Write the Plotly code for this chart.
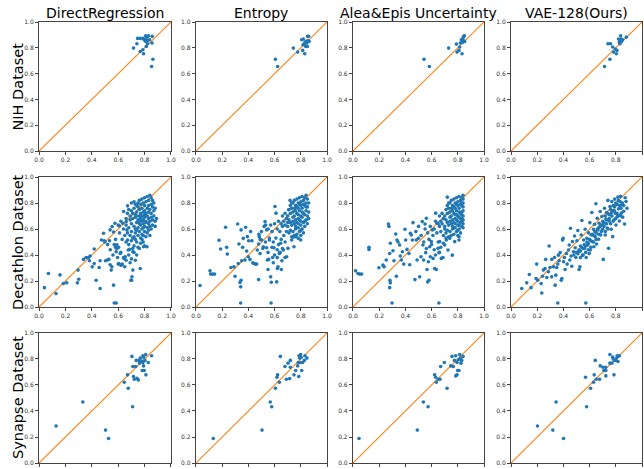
import plotly.graph_objects as go

methods = ["DirectRegression", "Entropy", "Alea&Epis Uncertainty", "VAE-128(Ours)"]
datasets = ["NIH Dataset", "Decathlon Dataset", "Synapse Dataset"]
tick_vals = [0.0, 0.2, 0.4, 0.6, 0.8, 1.0]
tick_text = ["0.0", "0.2", "0.4", "0.6", "0.8", "1.0"]
diag = [0.0, 1.0]

nih_direct = [(0.716,0.798),(0.742,0.832),(0.747,0.873),(0.767,0.873),(0.787,0.873),(0.767,0.772),
              (0.787,0.785),(0.792,0.754),(0.797,0.863),(0.808,0.894),(0.818,0.883),(0.823,0.858),
              (0.813,0.811),(0.823,0.832),(0.838,0.863),(0.830,0.894),(0.858,0.889),(0.856,0.837),
              (0.863,0.712),(0.853,0.655),(0.803,0.868),(0.808,0.850)]
nih_entropy = [(0.606,0.712),(0.623,0.655),(0.743,0.798),(0.776,0.767),(0.807,0.863),(0.814,0.780),
               (0.819,0.868),(0.827,0.832),(0.830,0.754),(0.837,0.811),(0.840,0.850),(0.845,0.837),
               (0.852,0.889),(0.860,0.889),(0.863,0.850),(0.850,0.811),(0.832,0.842),(0.855,0.855),
               (0.817,0.824)]
nih_alea = [(0.542,0.712),(0.583,0.655),(0.730,0.798),(0.789,0.829),(0.794,0.767),(0.809,0.780),
            (0.814,0.806),(0.819,0.837),(0.827,0.863),(0.832,0.754),(0.835,0.842),(0.840,0.876),
            (0.845,0.889),(0.850,0.894),(0.847,0.850),(0.852,0.850),(0.835,0.863)]
nih_vae = [(0.714,0.655),(0.740,0.832),(0.760,0.832),(0.755,0.712),(0.776,0.806),(0.783,0.767),
           (0.796,0.790),(0.804,0.754),(0.809,0.780),(0.821,0.868),(0.827,0.842),(0.832,0.858),
           (0.837,0.894),(0.842,0.868),(0.847,0.858),(0.832,0.832),(0.852,0.863),(0.880,0.883),
           (0.842,0.847)]

dec_direct = [(0.041,0.149),(0.071,0.258),(0.129,0.103),(0.159,0.247),(0.185,0.180),(0.210,0.186),
    (0.291,0.186),(0.301,0.214),(0.296,0.284),(0.337,0.366),(0.357,0.381),(0.375,0.381),(0.387,0.392),
    (0.382,0.356),(0.403,0.309),(0.418,0.335),(0.418,0.446),(0.433,0.206),(0.456,0.304),(0.463,0.356),
    (0.463,0.142),(0.473,0.515),(0.489,0.567),(0.494,0.510),(0.504,0.356),(0.519,0.361),(0.529,0.366),
    (0.534,0.510),(0.539,0.325),(0.547,0.284),(0.552,0.309),(0.539,0.593),(0.554,0.619),(0.565,0.577),
    (0.575,0.644),(0.580,0.459),(0.585,0.425),(0.590,0.479),(0.595,0.381),(0.603,0.459),(0.608,0.624),
    (0.615,0.412),(0.605,0.335),(0.620,0.322),(0.628,0.325),(0.635,0.644),(0.641,0.735),(0.646,0.371),
    (0.653,0.387),(0.661,0.657),(0.666,0.593),(0.671,0.778),(0.671,0.515),(0.676,0.438),(0.686,0.443),
    (0.691,0.670),(0.696,0.206),(0.701,0.206),(0.704,0.232),(0.711,0.425),(0.711,0.284),(0.565,0.168),
    (0.570,0.031),(0.585,0.031),(0.767,0.296),(0.792,0.464),(0.818,0.464),
    (0.70,0.80),(0.72,0.81),(0.73,0.79),(0.75,0.80),(0.76,0.82),(0.78,0.83),(0.80,0.84),(0.82,0.85),
    (0.84,0.86),(0.85,0.84),(0.83,0.82),(0.81,0.81),(0.79,0.80),(0.77,0.79),(0.74,0.78),(0.86,0.82),
    (0.87,0.80),(0.85,0.79),(0.83,0.78),(0.80,0.78),
    (0.68,0.75),(0.70,0.74),(0.72,0.76),(0.74,0.73),(0.76,0.75),(0.78,0.76),(0.80,0.74),(0.82,0.76),
    (0.84,0.75),(0.86,0.77),(0.87,0.74),(0.85,0.72),(0.83,0.73),(0.81,0.72),(0.79,0.73),(0.77,0.72),
    (0.75,0.77),(0.73,0.71),(0.71,0.72),(0.88,0.76),
    (0.69,0.70),(0.71,0.68),(0.73,0.69),(0.75,0.67),(0.76,0.70),(0.77,0.68),(0.78,0.70),(0.79,0.67),
    (0.80,0.69),(0.81,0.66),(0.82,0.70),(0.83,0.68),(0.84,0.66),(0.85,0.69),(0.86,0.67),(0.87,0.70),
    (0.88,0.66),(0.78,0.66),(0.80,0.71),(0.76,0.66),(0.74,0.70),(0.89,0.68),
    (0.66,0.63),(0.68,0.61),(0.70,0.64),(0.72,0.62),(0.74,0.65),(0.75,0.61),(0.77,0.63),(0.78,0.60),
    (0.79,0.64),(0.80,0.62),(0.81,0.65),(0.82,0.61),(0.83,0.64),(0.84,0.62),(0.86,0.63),(0.85,0.60),
    (0.73,0.60),(0.76,0.64),(0.79,0.61),(0.88,0.62),
    (0.67,0.57),(0.69,0.55),(0.70,0.58),(0.72,0.54),(0.73,0.57),(0.75,0.55),(0.76,0.58),(0.77,0.53),
    (0.78,0.56),(0.80,0.58),(0.81,0.54),(0.82,0.57),(0.84,0.55),(0.74,0.59),(0.79,0.55),(0.71,0.53),
    (0.83,0.59),
    (0.66,0.50),(0.68,0.48),(0.70,0.51),(0.72,0.47),(0.74,0.50),(0.75,0.46),(0.77,0.49),(0.78,0.52),
    (0.80,0.47),(0.73,0.52),(0.76,0.45),(0.79,0.50),(0.71,0.45),
    (0.62,0.66),(0.64,0.60),(0.65,0.55),(0.63,0.52),(0.66,0.68),(0.67,0.72),(0.60,0.63),(0.61,0.57),
    (0.58,0.52),(0.57,0.48),(0.59,0.45),(0.56,0.40),(0.54,0.44),(0.52,0.48),(0.50,0.50),
    (0.62,0.42),(0.64,0.38),(0.66,0.36),(0.68,0.40),(0.70,0.37),(0.72,0.42),(0.74,0.40),(0.63,0.33),
    (0.65,0.31),(0.60,0.33),(0.69,0.34),(0.73,0.36)]

dec_entropy = [(0.031,0.165),(0.107,0.278),(0.112,0.253),(0.127,0.253),(0.142,0.253),(0.176,0.513),
    (0.188,0.446),(0.226,0.613),(0.234,0.459),(0.239,0.407),(0.267,0.304),(0.290,0.309),(0.298,0.237),
    (0.318,0.639),(0.323,0.335),(0.328,0.485),(0.336,0.188),(0.341,0.155),(0.344,0.206),(0.341,0.031),
    (0.344,0.593),(0.349,0.356),(0.356,0.459),(0.361,0.528),(0.374,0.361),(0.379,0.613),(0.387,0.430),
    (0.392,0.541),(0.399,0.387),(0.402,0.510),(0.412,0.366),(0.417,0.580),(0.427,0.510),(0.433,0.340),
    (0.443,0.335),(0.453,0.330),(0.463,0.330),(0.468,0.438),(0.478,0.485),(0.478,0.211),(0.483,0.541),
    (0.489,0.412),(0.501,0.515),(0.514,0.464),(0.527,0.657),(0.532,0.631),(0.539,0.593),(0.539,0.456),
    (0.545,0.361),(0.550,0.289),(0.555,0.366),(0.560,0.515),(0.570,0.232),(0.575,0.191),(0.573,0.031),
    (0.585,0.381),(0.590,0.340),(0.595,0.456),(0.603,0.773),(0.611,0.722),(0.616,0.193),(0.621,0.296),
    (0.626,0.309),(0.636,0.412),(0.641,0.418),(0.646,0.490),(0.651,0.289),(0.656,0.356),(0.667,0.438),
    (0.679,0.381),(0.692,0.387),(0.702,0.451),(0.707,0.748),(0.718,0.820),(0.730,0.515),(0.743,0.536),
    (0.748,0.464),(0.763,0.541),(0.781,0.528),(0.799,0.515),
    (0.48,0.56),(0.50,0.58),(0.52,0.62),(0.55,0.60),(0.57,0.63),(0.58,0.58),(0.60,0.64),(0.62,0.60),
    (0.63,0.66),(0.64,0.58),(0.66,0.62),(0.67,0.55),(0.68,0.63),(0.69,0.58),(0.70,0.65),(0.56,0.53),
    (0.59,0.50),(0.61,0.53),(0.63,0.48),(0.65,0.52),(0.66,0.45),(0.68,0.50),(0.62,0.44),(0.64,0.42),
    (0.58,0.46),(0.53,0.50),(0.51,0.45),(0.49,0.52),(0.60,0.40),(0.62,0.38),(0.55,0.42),
    (0.72,0.78),(0.74,0.80),(0.75,0.82),(0.76,0.78),(0.77,0.83),(0.78,0.80),(0.79,0.84),(0.80,0.81),
    (0.81,0.85),(0.82,0.82),(0.83,0.84),(0.84,0.80),(0.85,0.83),(0.80,0.78),(0.78,0.76),(0.76,0.74),
    (0.74,0.73),(0.72,0.72),(0.73,0.76),(0.70,0.70),(0.71,0.75),(0.75,0.70),(0.77,0.72),(0.79,0.74),
    (0.81,0.76),(0.83,0.78),(0.85,0.77),(0.84,0.74),(0.82,0.72),(0.80,0.70),(0.78,0.68),(0.76,0.67),
    (0.74,0.66),(0.72,0.65),(0.70,0.62),(0.73,0.63),(0.75,0.64),(0.77,0.65),(0.79,0.67),(0.81,0.69),
    (0.83,0.71),(0.85,0.70),(0.84,0.67),(0.82,0.65),(0.80,0.63),(0.78,0.61),(0.76,0.60),(0.74,0.58),
    (0.72,0.59),(0.79,0.58),(0.81,0.60),(0.83,0.62),(0.85,0.64),(0.82,0.57),(0.80,0.55),(0.77,0.56),
    (0.75,0.55),(0.73,0.54),(0.71,0.57),(0.69,0.68),(0.68,0.72),(0.66,0.70),(0.67,0.66),(0.65,0.64),
    (0.86,0.80),(0.86,0.73),(0.86,0.68),(0.84,0.86),(0.79,0.79),(0.77,0.77),(0.81,0.73),(0.78,0.71),
    (0.74,0.69),(0.80,0.66),(0.76,0.62),(0.83,0.66),(0.71,0.67),(0.73,0.80),(0.75,0.76),(0.82,0.79),
    (0.84,0.77),(0.78,0.64),(0.80,0.59)]

dec_alea = [(0.020,0.278),(0.038,0.258),(0.051,0.253),(0.066,0.253),(0.122,0.459),(0.122,0.443),
    (0.198,0.302),(0.229,0.322),(0.237,0.309),(0.254,0.361),(0.270,0.639),(0.275,0.619),(0.280,0.412),
    (0.282,0.206),(0.285,0.186),(0.280,0.149),(0.285,0.490),(0.298,0.031),(0.305,0.433),(0.313,0.356),
    (0.326,0.562),(0.331,0.237),(0.336,0.515),(0.344,0.500),(0.356,0.477),(0.361,0.392),(0.369,0.361),
    (0.377,0.425),(0.387,0.330),(0.397,0.598),(0.402,0.515),(0.412,0.443),(0.427,0.412),(0.433,0.325),
    (0.438,0.567),(0.445,0.554),(0.453,0.515),(0.458,0.649),(0.473,0.211),(0.483,0.515),(0.489,0.361),
    (0.499,0.528),(0.509,0.232),(0.519,0.387),(0.529,0.657),(0.534,0.477),(0.539,0.361),(0.550,0.639),
    (0.555,0.418),(0.560,0.683),(0.565,0.289),(0.570,0.193),(0.575,0.348),(0.580,0.206),(0.585,0.464),
    (0.590,0.387),(0.598,0.503),(0.606,0.593),(0.611,0.374),(0.623,0.296),(0.631,0.722),(0.636,0.289),
    (0.641,0.644),(0.649,0.451),(0.656,0.031),(0.656,0.418),(0.662,0.503),(0.674,0.374),(0.687,0.381),
    (0.700,0.477),(0.712,0.515),(0.720,0.845),(0.725,0.438),(0.738,0.528),(0.758,0.399),(0.776,0.503),
    (0.809,0.515),(0.809,0.541),
    (0.48,0.58),(0.50,0.62),(0.52,0.55),(0.55,0.60),(0.57,0.57),(0.59,0.62),(0.61,0.55),(0.62,0.60),
    (0.63,0.66),(0.64,0.57),(0.66,0.62),(0.67,0.58),(0.68,0.64),(0.69,0.55),(0.70,0.60),(0.65,0.50),
    (0.67,0.46),(0.69,0.49),(0.71,0.53),(0.60,0.48),(0.62,0.44),(0.58,0.52),(0.56,0.45),(0.54,0.50),
    (0.63,0.40),(0.66,0.42),
    (0.72,0.78),(0.74,0.80),(0.75,0.82),(0.76,0.78),(0.77,0.83),(0.78,0.80),(0.79,0.84),(0.80,0.81),
    (0.81,0.85),(0.82,0.82),(0.83,0.84),(0.83,0.80),(0.84,0.83),(0.80,0.78),(0.78,0.76),(0.76,0.74),
    (0.74,0.73),(0.72,0.72),(0.73,0.76),(0.70,0.70),(0.71,0.75),(0.75,0.70),(0.77,0.72),(0.79,0.74),
    (0.81,0.76),(0.83,0.78),(0.84,0.77),(0.84,0.74),(0.82,0.72),(0.80,0.70),(0.78,0.68),(0.76,0.67),
    (0.74,0.66),(0.72,0.65),(0.70,0.62),(0.73,0.63),(0.75,0.64),(0.77,0.65),(0.79,0.67),(0.81,0.69),
    (0.83,0.71),(0.84,0.70),(0.84,0.67),(0.82,0.65),(0.80,0.63),(0.78,0.61),(0.76,0.60),(0.74,0.58),
    (0.72,0.59),(0.79,0.58),(0.81,0.60),(0.83,0.62),(0.84,0.64),(0.82,0.57),(0.80,0.55),(0.77,0.56),
    (0.75,0.55),(0.73,0.54),(0.71,0.57),(0.69,0.68),(0.68,0.72),(0.66,0.70),(0.67,0.66),(0.65,0.64),
    (0.84,0.80),(0.83,0.73),(0.83,0.68),(0.84,0.86),(0.79,0.79),(0.77,0.77),(0.81,0.73),(0.78,0.71),
    (0.74,0.69),(0.80,0.66),(0.76,0.62),(0.83,0.66),(0.71,0.67),(0.73,0.80),(0.75,0.76),(0.82,0.79),
    (0.84,0.61),(0.78,0.64),(0.80,0.59),(0.82,0.68),(0.81,0.63),(0.79,0.71),(0.77,0.61)]

dec_vae = [(0.082,0.142),(0.120,0.186),(0.140,0.250),(0.153,0.149),(0.191,0.219),(0.196,0.330),
    (0.204,0.206),(0.230,0.180),(0.235,0.108),(0.240,0.237),(0.247,0.284),(0.260,0.296),(0.265,0.366),
    (0.273,0.227),(0.286,0.271),(0.291,0.469),(0.298,0.304),(0.311,0.366),(0.311,0.232),(0.324,0.309),
    (0.332,0.381),(0.337,0.168),(0.342,0.245),(0.349,0.304),(0.357,0.031),(0.357,0.330),(0.362,0.399),
    (0.367,0.356),(0.375,0.418),(0.383,0.206),(0.388,0.219),(0.393,0.515),(0.398,0.528),(0.401,0.348),
    (0.408,0.381),(0.413,0.289),(0.423,0.412),(0.429,0.330),(0.439,0.438),(0.444,0.477),(0.449,0.361),
    (0.454,0.606),(0.459,0.392),(0.464,0.314),(0.469,0.503),(0.477,0.425),(0.485,0.546),(0.490,0.456),
    (0.495,0.381),(0.503,0.510),(0.510,0.588),(0.515,0.425),(0.520,0.289),(0.526,0.309),(0.531,0.469),
    (0.536,0.554),(0.541,0.665),(0.546,0.399),(0.554,0.515),(0.561,0.451),(0.566,0.598),(0.571,0.031),
    (0.574,0.381),(0.579,0.528),(0.587,0.477),(0.592,0.570),(0.597,0.412),(0.602,0.649),(0.605,0.438),
    (0.612,0.554),(0.617,0.727),(0.622,0.503),(0.630,0.598),(0.633,0.464),(0.638,0.637),(0.643,0.541),
    (0.648,0.794),(0.653,0.485),(0.658,0.683),(0.663,0.593),(0.668,0.521),(0.673,0.644),(0.681,0.735),
    (0.684,0.554),(0.694,0.696),(0.699,0.598),(0.704,0.366),(0.707,0.644),(0.714,0.760),(0.719,0.554),
    (0.724,0.676),(0.730,0.727),(0.735,0.608),(0.740,0.820),(0.745,0.451),(0.750,0.662),(0.755,0.773),
    (0.760,0.714),(0.765,0.598),(0.770,0.812),(0.776,0.541),(0.781,0.742),(0.786,0.670),(0.791,0.830),
    (0.796,0.722),(0.801,0.631),(0.806,0.786),(0.811,0.696),(0.816,0.845),(0.821,0.755),(0.827,0.662),
    (0.832,0.812),(0.837,0.851),(0.842,0.722),(0.847,0.786),(0.852,0.691),(0.860,0.737),(0.867,0.639),
    (0.878,0.812),(0.885,0.760),(0.872,0.840),(0.834,0.704),
    (0.72,0.70),(0.74,0.72),(0.76,0.75),(0.78,0.78),(0.80,0.80),(0.82,0.82),(0.70,0.66),(0.68,0.62),
    (0.66,0.60),(0.64,0.58),(0.62,0.56),(0.60,0.52),(0.58,0.50),(0.56,0.48),(0.54,0.46),(0.52,0.44),
    (0.50,0.42),(0.48,0.40),(0.75,0.68),(0.77,0.70),(0.79,0.74),(0.81,0.72),(0.83,0.78),(0.85,0.80),
    (0.73,0.64),(0.71,0.62),(0.69,0.58),(0.67,0.56),(0.65,0.52),(0.63,0.50),(0.61,0.46),(0.59,0.44),
    (0.57,0.42),(0.55,0.40),(0.53,0.38),(0.78,0.66),(0.80,0.68),(0.82,0.70),(0.76,0.64),(0.74,0.60),
    (0.72,0.58),(0.84,0.76),(0.86,0.78),(0.79,0.77),(0.81,0.79),(0.77,0.73),(0.75,0.71),(0.73,0.67),
    (0.71,0.65),(0.69,0.63),(0.67,0.61),(0.65,0.57),(0.63,0.55),(0.61,0.51),(0.59,0.49),(0.57,0.47),
    (0.55,0.45),(0.53,0.43),(0.51,0.41)]

syn_direct = [(0.129,0.284),(0.332,0.469),(0.504,0.253),(0.527,0.188),(0.646,0.621),(0.671,0.678),
    (0.676,0.575),(0.704,0.820),(0.709,0.433),(0.711,0.742),(0.716,0.665),(0.722,0.644),(0.732,0.742),
    (0.737,0.789),(0.742,0.652),(0.752,0.639),(0.757,0.789),(0.762,0.768),(0.767,0.807),(0.777,0.784),
    (0.782,0.711),(0.787,0.825),(0.792,0.814),(0.787,0.773),(0.797,0.711),(0.803,0.789),(0.808,0.835),
    (0.810,0.678),(0.828,0.773),(0.853,0.825),(0.792,0.747)]
syn_entropy = [(0.132,0.188),(0.504,0.253),(0.567,0.469),(0.578,0.433),(0.606,0.575),(0.618,0.660),
    (0.623,0.678),(0.636,0.621),(0.644,0.820),(0.679,0.742),(0.690,0.644),(0.702,0.768),(0.715,0.649),
    (0.720,0.789),(0.720,0.737),(0.748,0.678),(0.761,0.711),(0.776,0.747),(0.781,0.773),(0.784,0.665),
    (0.786,0.825),(0.791,0.807),(0.796,0.773),(0.799,0.835),(0.802,0.812),(0.807,0.711),(0.814,0.773),
    (0.827,0.789),(0.832,0.825),(0.847,0.807)]
syn_alea = [(0.046,0.188),(0.491,0.253),(0.537,0.469),(0.573,0.433),(0.623,0.678),(0.631,0.660),
    (0.636,0.621),(0.651,0.644),(0.664,0.644),(0.669,0.742),(0.697,0.773),(0.718,0.575),(0.746,0.747),
    (0.756,0.820),(0.766,0.742),(0.774,0.789),(0.784,0.825),(0.784,0.670),(0.794,0.678),(0.794,0.773),
    (0.799,0.711),(0.809,0.711),(0.814,0.835),(0.819,0.807),(0.824,0.794),(0.824,0.768),(0.830,0.789),
    (0.840,0.820),(0.804,0.794)]
syn_vae = [(0.202,0.284),(0.319,0.253),(0.344,0.469),(0.401,0.188),(0.569,0.660),(0.577,0.433),
    (0.607,0.575),(0.630,0.621),(0.635,0.678),(0.643,0.789),(0.651,0.644),(0.676,0.644),(0.681,0.747),
    (0.702,0.737),(0.709,0.711),(0.722,0.737),(0.724,0.670),(0.724,0.711),(0.755,0.835),(0.755,0.768),
    (0.770,0.768),(0.776,0.814),(0.781,0.799),(0.786,0.678),(0.791,0.789),(0.801,0.794),(0.811,0.814),
    (0.816,0.781),(0.827,0.825),(0.811,0.825)]

panels = [[nih_direct, nih_entropy, nih_alea, nih_vae],
          [dec_direct, dec_entropy, dec_alea, dec_vae],
          [syn_direct, syn_entropy, syn_alea, syn_vae]]

x_domains = [[0.0606, 0.2655], [0.3043, 0.5078], [0.5481, 0.7516], [0.7935, 0.9969]]
y_domains = [[0.678, 0.953], [0.3454, 0.6226], [0.0128, 0.290]]

BLUE = "#1f77b4"
ORANGE = "#ff7f0e"
FONT = "DejaVu Sans"

fig = go.Figure()
layout = {}
k = 0
for r in range(3):
    for c in range(4):
        k += 1
        suffix = "" if k == 1 else str(k)
        pts = panels[r][c]
        xs = [p[0] for p in pts]
        ys = [p[1] for p in pts]
        fig.add_trace(go.Scatter(x=diag, y=diag, mode="lines",
                                 line=dict(color=ORANGE, width=1.1),
                                 xaxis="x" + suffix, yaxis="y" + suffix,
                                 showlegend=False, hoverinfo="skip"))
        fig.add_trace(go.Scatter(x=xs, y=ys, mode="markers",
                                 marker=dict(color=BLUE, size=3.6, line=dict(width=0)),
                                 xaxis="x" + suffix, yaxis="y" + suffix,
                                 showlegend=False))
        common = dict(range=[0, 1], tickvals=tick_vals, ticktext=tick_text,
                      showline=True, mirror=True, linecolor="#444", linewidth=1.2,
                      ticks="outside", ticklen=3, tickwidth=0.8, tickcolor="#444",
                      tickfont=dict(size=6, color="#333", family=FONT),
                      showgrid=False, zeroline=False, fixedrange=True, automargin=False)
        layout["xaxis" + suffix] = dict(domain=x_domains[c], anchor="y" + suffix, **common)
        layout["yaxis" + suffix] = dict(domain=y_domains[r], anchor="x" + suffix, **common)

annotations = []
for c, name in enumerate(methods):
    annotations.append(dict(text=name, x=(x_domains[c][0] + x_domains[c][1]) / 2, y=1.0,
                            xref="paper", yref="paper", xanchor="center", yanchor="top",
                            yshift=-3, showarrow=False,
                            font=dict(size=14, family=FONT, color="#000")))
for r, name in enumerate(datasets):
    annotations.append(dict(text=name, x=0.0, y=(y_domains[r][0] + y_domains[r][1]) / 2,
                            xref="paper", yref="paper", xanchor="left", yanchor="middle",
                            xshift=8, textangle=-90, showarrow=False,
                            font=dict(size=14.5, family=FONT, color="#000")))

fig.update_layout(width=644, height=469, margin=dict(l=0, r=0, t=0, b=0, autoexpand=False),
                  paper_bgcolor="white", plot_bgcolor="white",
                  annotations=annotations, **layout)

fig.write_html("out.html", config={"displayModeBar": False},
               post_script="document.body.style.margin='0';document.body.style.overflow='hidden';")
